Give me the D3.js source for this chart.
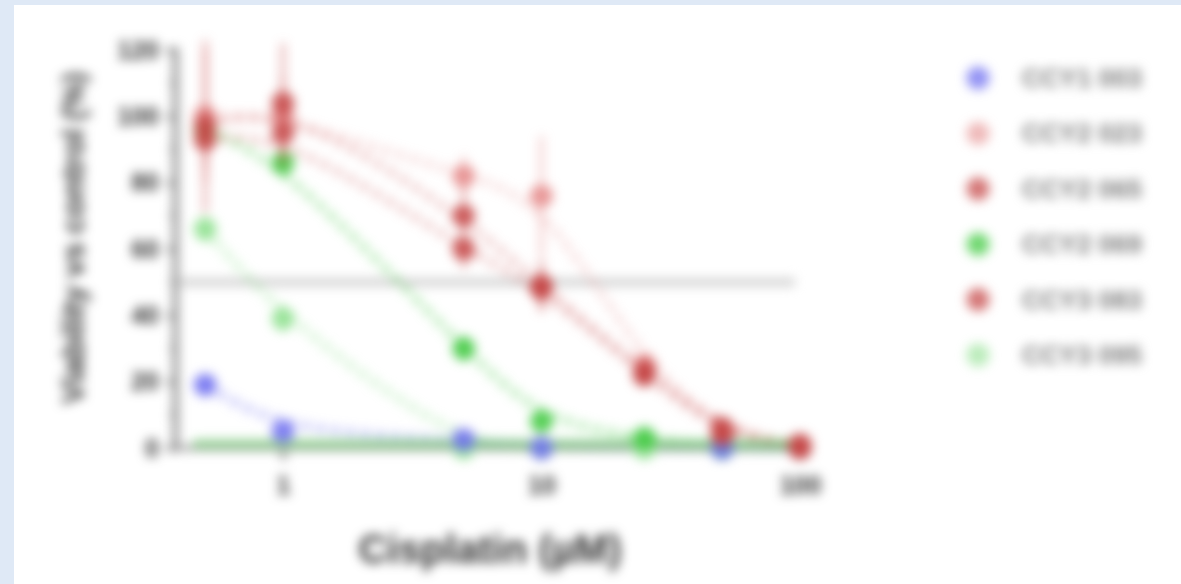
<!DOCTYPE html>
<html>
<head>
<meta charset="utf-8">
<script src="https://cdn.jsdelivr.net/npm/d3@7"></script>
<style>
  html, body { margin: 0; padding: 0; background: #dfe9f6; }
  #frame { position: absolute; left: 14px; top: 5px; width: 1167px; height: 579px; background: #ffffff; }
  svg { position: absolute; left: 0; top: 0; filter: blur(5.5px); }
  text { font-family: "Liberation Sans", Arial, sans-serif; font-weight: bold; }
</style>
</head>
<body>
<div id="frame"></div>
<svg id="chart" width="1181" height="584"></svg>
<script>
// Cisplatin concentrations (µM)
const doses = [0.5, 1, 5, 10, 25, 50, 100];

// Cell line names and colours
const seriesNames = ["CCY1 003", "CCY2 023", "CCY2 065", "CCY2 069", "CCY3 083", "CCY3 095"];
const seriesColors = ["#6f6ff0", "#e58a8a", "#c64848", "#3fc93f", "#c64848", "#8ee08e"];

// Mean viability (% of control) per dose
const viabilityS1 = [19, 5, 2.5, 0, null, 0, 0];
const viabilityS2 = [100, 100, 82, 76, 25, 5, 0];
const viabilityS3 = [97, 104, 70, 49, 23, 6, 0];
const viabilityS4 = [96, 86, 30, 8, 3, 0, 0];
const viabilityS5 = [93, 95, 60, 48, 22, 4, 1];
const viabilityS6 = [66, 39, 0, 0, 0, 0, 0];

// Standard deviation per dose
const errorS1 = [2, 1, 1, 1, null, 1, 1];
const errorS2 = [20, 12, 6, 18, 3, 2, 1];
const errorS3 = [26, 18, 8, 8, 4, 2, 1];
const errorS4 = [5, 4, 4, 3, 2, 1, 1];
const errorS5 = [8, 10, 6, 6, 3, 2, 1];
const errorS6 = [4, 4, 1, 1, 1, 1, 1];

const yTicks = [0, 20, 40, 60, 80, 100, 120];
const xTicks = [1, 10, 100];
const referenceLevel = [50];

const values = [viabilityS1, viabilityS2, viabilityS3, viabilityS4, viabilityS5, viabilityS6];
const errors = [errorS1, errorS2, errorS3, errorS4, errorS5, errorS6];

const svg = d3.select("#chart");

const x = d3.scaleLog().domain([1, 100]).range([283, 800]);
const y = d3.scaleLinear().domain([0, 120]).range([448, 50]);

// 50 % reference line
svg.selectAll(".ref").data(referenceLevel).join("line")
  .attr("x1", 180).attr("x2", 795)
  .attr("y1", d => y(d)).attr("y2", d => y(d))
  .attr("stroke", "#d2d2d2").attr("stroke-width", 8);

// Smoothed dashed trend curves
const line = d3.line()
  .defined(d => d.v !== null)
  .x(d => x(d.dose)).y(d => y(d.v))
  .curve(d3.curveBasis);

const drawOrder = [5, 3, 0, 1, 4, 2];
drawOrder.forEach(i => {
  const pts = doses.map((dose, k) => ({ dose, v: values[i][k] })).filter(d => d.v !== null);
  svg.append("path")
    .attr("d", line(pts))
    .attr("fill", "none")
    .attr("stroke", seriesColors[i])
    .attr("stroke-opacity", (i === 1 || i === 2 || i === 4) ? 0.3 : 0.4)
    .attr("stroke-width", 8)
    .attr("stroke-dasharray", "9,6");
});

// Y axis
const yAxis = d3.axisLeft(y).tickValues(yTicks).tickSize(8).tickPadding(8);
const gy = svg.append("g").attr("transform", "translate(175,0)").call(yAxis);
gy.select(".domain").attr("stroke", "#8c8c8c").attr("stroke-width", 6);
gy.selectAll(".tick line").attr("stroke", "#8c8c8c").attr("stroke-width", 5);
gy.selectAll(".tick text").style("font-size", "25px").attr("fill", "#333");
// minor ticks
const minorY = d3.range(0, 121, 10).filter(v => !yTicks.includes(v));
gy.selectAll(".minor").data(minorY).join("line")
  .attr("x1", -5).attr("x2", 0).attr("y1", d => y(d)).attr("y2", d => y(d))
  .attr("stroke", "#8c8c8c").attr("stroke-width", 4);

// X axis
const xAxis = d3.axisBottom(x).tickValues(xTicks).tickFormat(d3.format("d")).tickSize(12).tickPadding(16);
const gx = svg.append("g").attr("transform", "translate(0,448)").call(xAxis);
gx.select(".domain").remove();
gx.append("line").attr("x1", 175).attr("x2", 810).attr("stroke", "#9a9a9a").attr("stroke-width", 5);
gx.selectAll(".tick line").attr("stroke", "#8c8c8c").attr("stroke-width", 5);
gx.selectAll(".tick text").style("font-size", "25px").attr("fill", "#333");

// Bottom band where the curves flatten at zero
svg.append("line")
  .attr("x1", x(0.45)).attr("x2", x(100))
  .attr("y1", y(1.2)).attr("y2", y(1.2))
  .attr("stroke", "#5fc35f").attr("stroke-opacity", 0.55).attr("stroke-width", 10);

// Error bars and points
drawOrder.forEach(i => {
  const pts = doses.map((dose, k) => ({ dose, v: values[i][k], e: errors[i][k] }))
    .filter(d => d.v !== null);
  const g = svg.append("g");
  g.selectAll("line").data(pts).join("line")
    .attr("x1", d => x(d.dose)).attr("x2", d => x(d.dose))
    .attr("y1", d => y(Math.max(0, d.v - d.e))).attr("y2", d => y(d.v + d.e))
    .attr("stroke", seriesColors[i]).attr("stroke-opacity", 0.5).attr("stroke-width", 4);
  g.selectAll("circle").data(pts).join("circle")
    .attr("cx", d => x(d.dose)).attr("cy", d => y(d.v))
    .attr("r", 11.5)
    .attr("fill", seriesColors[i]).attr("fill-opacity", 0.85);
});

// Axis titles
svg.append("text")
  .attr("x", 490).attr("y", 563)
  .attr("text-anchor", "middle")
  .style("font-size", "40px").attr("fill", "#333")
  .text("Cisplatin (µM)");

svg.append("text")
  .attr("transform", "translate(84,238) rotate(-90)")
  .attr("text-anchor", "middle")
  .style("font-size", "31px").attr("fill", "#333")
  .text("Viability vs control (%)");

// Legend
const legend = svg.append("g");
const legendY = d3.scalePoint().domain(seriesNames).range([78, 355]);
legend.selectAll("circle").data(seriesNames).join("circle")
  .attr("cx", 978).attr("cy", d => legendY(d)).attr("r", 11.5)
  .attr("fill", (d, i) => seriesColors[i]).attr("fill-opacity", (d, i) => (i === 1 || i === 5) ? 0.6 : 0.75);
legend.selectAll("text").data(seriesNames).join("text")
  .attr("x", 1022).attr("y", d => legendY(d) + 9)
  .style("font-size", "26px").attr("fill", "#7a7a7a")
  .text(d => d);
</script>
</body>
</html>
